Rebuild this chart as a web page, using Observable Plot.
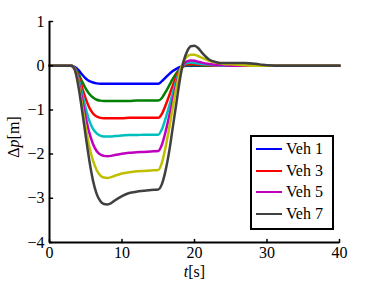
<!DOCTYPE html>
<html>
<head>
<meta charset="utf-8">
<script src="https://cdn.jsdelivr.net/npm/d3@7"></script>
<script src="https://cdn.jsdelivr.net/npm/@observablehq/plot@0.6"></script>
<style>
  html, body { margin: 0; padding: 0; background: #fff; }
  #wrap { position: relative; width: 374px; height: 281px; font-family: "Liberation Serif", "Times New Roman", "DejaVu Serif", serif; }
  #wrap svg, #wrap svg text { font-family: "Liberation Serif", "Times New Roman", "DejaVu Serif", serif; }
  #legend { position: absolute; left: 250px; top: 135px; width: 80px; height: 90px; border: 2px solid #000; background: #fff; padding-top: 1px; box-sizing: content-box; }
  .row { display: flex; align-items: center; height: 21.7px; font-size: 16px; }
  .swatch { width: 26px; height: 0; border-top: 2.5px solid; margin-left: 4px; margin-right: 4px; }
</style>
</head>
<body>
<div id="wrap"></div>
<script>
// time samples [s]
const t = [0,3,3.5,4,4.5,5,5.5,6,6.5,7,7.5,8,8.5,9,10,11,12,13,14,15,15.5,16,16.5,17,17.5,18,18.5,19,19.5,20,20.5,21,22,23,24,25,26,27,28,29,30,31,32,35,40];

const veh1 = [0,0,-0.03,-0.10,-0.20,-0.29,-0.35,-0.38,-0.40,-0.41,-0.41,-0.41,-0.41,-0.41,-0.41,-0.41,-0.41,-0.41,-0.41,-0.41,-0.35,-0.27,-0.19,-0.12,-0.07,-0.03,-0.01,0,0,0,0,0,0,0,0,0,0,0,0,0,0,0,0,0,0];
const veh2 = [0,0,-0.05,-0.18,-0.36,-0.52,-0.64,-0.72,-0.77,-0.79,-0.80,-0.80,-0.80,-0.80,-0.80,-0.80,-0.79,-0.79,-0.79,-0.79,-0.73,-0.60,-0.45,-0.30,-0.17,-0.07,-0.01,0.01,0.01,0.01,0.01,0.005,0,0,0,0,0,0,0,0,0,0,0,0,0];
const veh3 = [0,0,-0.06,-0.24,-0.50,-0.75,-0.95,-1.08,-1.15,-1.18,-1.19,-1.19,-1.19,-1.19,-1.19,-1.18,-1.18,-1.18,-1.18,-1.18,-1.09,-0.90,-0.68,-0.45,-0.24,-0.08,0.00,0.03,0.03,0.03,0.025,0.02,0.01,0,0,0,0,0,0,0,0,0,0,0,0];
const veh4 = [0,0,-0.07,-0.30,-0.63,-0.97,-1.25,-1.43,-1.53,-1.58,-1.60,-1.60,-1.60,-1.59,-1.58,-1.57,-1.57,-1.56,-1.56,-1.56,-1.44,-1.20,-0.92,-0.62,-0.33,-0.10,0.02,0.06,0.07,0.06,0.05,0.04,0.02,0.01,0,0,0,0,0,0,0,0,0,0,0];
const veh5 = [0,0,-0.08,-0.36,-0.76,-1.17,-1.52,-1.77,-1.93,-2.01,-2.04,-2.05,-2.04,-2.02,-1.99,-1.97,-1.96,-1.95,-1.94,-1.93,-1.79,-1.50,-1.15,-0.78,-0.42,-0.12,0.04,0.10,0.12,0.11,0.09,0.07,0.04,0.02,0.01,0,0,0,0,0,0,0,0,0,0];
const veh6 = [0,0,-0.09,-0.42,-0.90,-1.40,-1.84,-2.15,-2.36,-2.48,-2.53,-2.54,-2.52,-2.49,-2.44,-2.41,-2.39,-2.38,-2.37,-2.36,-2.20,-1.85,-1.42,-0.95,-0.50,-0.12,0.10,0.21,0.25,0.25,0.22,0.18,0.11,0.07,0.04,0.03,0.02,0.01,0,0,0,0,0,0,0];
const veh7 = [0,0,-0.10,-0.48,-1.02,-1.60,-2.15,-2.60,-2.90,-3.06,-3.13,-3.14,-3.11,-3.05,-2.95,-2.88,-2.85,-2.83,-2.81,-2.80,-2.68,-2.38,-1.95,-1.40,-0.85,-0.30,0.10,0.33,0.44,0.45,0.40,0.30,0.14,0.08,0.06,0.06,0.06,0.06,0.05,0.03,0.01,0,0,0,0];

const seriesNames = ["Veh 1","Veh 2","Veh 3","Veh 4","Veh 5","Veh 6","Veh 7"];
const seriesValues = [veh1, veh2, veh3, veh4, veh5, veh6, veh7];
const seriesColors = ["#0000ff","#008000","#ff0000","#00bfbf","#bf00bf","#bfbf00","#404040"];
const legendNames = ["Veh 1","Veh 3","Veh 5","Veh 7"];

const xTicks = [0,10,20,30,40];
const yTicks = [-4,-3,-2,-1,0,1];
const xLabel = "t[s]";
const yLabel = "Δp[m]";

const fmt = d => (d < 0 ? "\u2212" + Math.abs(d) : String(d));
const tickShape = { draw(context, l) { context.moveTo(0, 0); context.lineTo(0, -l); } };

const lineMarks = seriesValues.map((vals, i) =>
  Plot.line(t.map((tt, j) => ({t: tt, v: vals[j]})), {
    x: "t", y: "v", stroke: seriesColors[i], strokeWidth: 2.5, curve: "monotone-x"
  })
);

const chart = Plot.plot({
  width: 374,
  height: 281,
  marginLeft: 49,
  marginRight: 35,
  marginTop: 21,
  marginBottom: 39,
  style: { fontFamily: "'Liberation Serif', 'Times New Roman', 'DejaVu Serif', serif", fontSize: "16px", color: "#000", background: "#fff" },
  x: { domain: [0, 40] },
  y: { domain: [-4, 1] },
  marks: [
    ...lineMarks,
    Plot.ruleX([0], { stroke: "#000", strokeWidth: 2 }),
    Plot.ruleY([-4], { stroke: "#000", strokeWidth: 2 }),
    Plot.vector(yTicks, { x: 0, y: d => d, rotate: 90, length: 3, anchor: "start", shape: tickShape, stroke: "#000", strokeWidth: 1.5 }),
    Plot.vector(xTicks, { x: d => d, y: -4, rotate: 0, length: 3, anchor: "start", shape: tickShape, stroke: "#000", strokeWidth: 1.5 }),
    Plot.axisX({ ticks: xTicks, tickFormat: fmt, tickSize: 0, tickPadding: 4, label: null, fontSize: 16 }),
    Plot.axisY({ ticks: yTicks, tickFormat: fmt, tickSize: 0, tickPadding: 5, label: null, fontSize: 16 }),
    Plot.text([xLabel], { text: d => d, frameAnchor: "bottom", textAnchor: "middle", lineAnchor: "middle", dy: 29, fontSize: 16 }),
    Plot.text([yLabel], { text: d => d, frameAnchor: "left", textAnchor: "middle", lineAnchor: "middle", rotate: -90, dx: -36, dy: 5, fontSize: 16 })
  ]
});

// italicize the variable letters in the axis labels
chart.querySelectorAll("text").forEach(el => {
  if (el.textContent === xLabel) el.innerHTML = '<tspan font-style="italic">t</tspan>[s]';
  else if (el.textContent === yLabel) el.innerHTML = 'Δ<tspan font-style="italic">p</tspan>[m]';
});

const wrap = document.getElementById("wrap");
wrap.appendChild(chart);

const legend = document.createElement("div");
legend.id = "legend";
legendNames.forEach(name => {
  const i = seriesNames.indexOf(name);
  const row = document.createElement("div");
  row.className = "row";
  const sw = document.createElement("span");
  sw.className = "swatch";
  sw.style.borderTopColor = seriesColors[i];
  const label = document.createElement("span");
  label.textContent = name;
  row.appendChild(sw);
  row.appendChild(label);
  legend.appendChild(row);
});
wrap.appendChild(legend);
</script>
</body>
</html>
